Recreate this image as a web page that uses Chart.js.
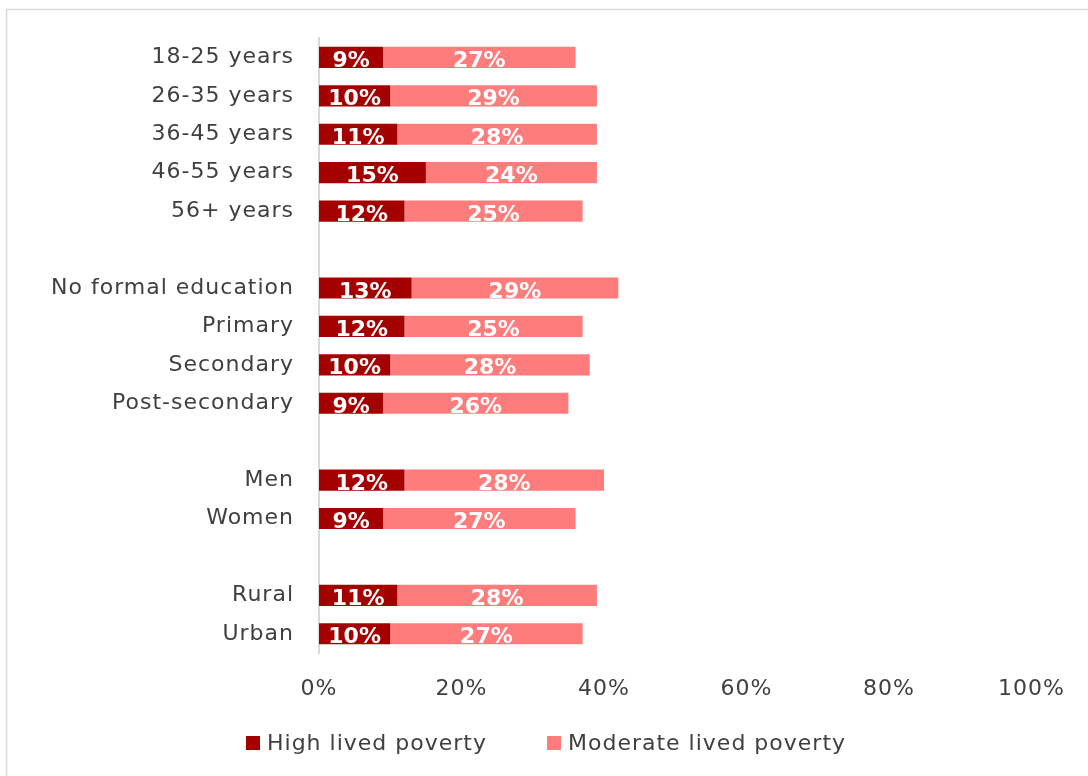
<!DOCTYPE html>
<html lang="en">
<head>
<meta charset="UTF-8">
<title>Lived poverty by group</title>
<script src="https://cdn.jsdelivr.net/npm/chart.js@4/dist/chart.umd.min.js"></script>
<style>
  html, body { margin: 0; padding: 0; background: #fff; overflow: hidden; }
  #wrap { width: 1088px; height: 776px; position: relative; }
  canvas { display: block; }
</style>
</head>
<body>
<div id="wrap"><canvas id="chart" width="1088" height="776"></canvas></div>
<script>
// groups separated by blank rows
const categories = [
  '18-25 years', '26-35 years', '36-45 years', '46-55 years', '56+ years', '',
  'No formal education', 'Primary', 'Secondary', 'Post-secondary', '',
  'Men', 'Women', '',
  'Rural', 'Urban'
];
const highPoverty = [9, 10, 11, 15, 12, null, 13, 12, 10, 9, null, 12, 9, null, 11, 10];
const moderatePoverty = [27, 29, 28, 24, 25, null, 29, 25, 28, 26, null, 28, 27, null, 28, 27];
const seriesNames = ['High lived poverty', 'Moderate lived poverty'];
const seriesColors = ['#a50000', '#ff7c7c'];
const xTicks = [0, 20, 40, 60, 80, 100];

const FONT = "'DejaVu Sans', sans-serif";
const TEXT = '#404040';
const SPACING = '1px';

// wider tracking for axis text
const tracking = {
  id: 'tracking',
  beforeUpdate(chart) { chart.ctx.letterSpacing = SPACING; },
  beforeDraw(chart) { chart.ctx.letterSpacing = SPACING; }
};

// white percentage labels inside each segment
const barLabels = {
  id: 'barLabels',
  afterDatasetsDraw(chart) {
    const ctx = chart.ctx;
    ctx.save();
    ctx.letterSpacing = '0px';
    ctx.fillStyle = '#fff';
    ctx.font = "bold 22px " + FONT;
    ctx.textAlign = 'center';
    ctx.textBaseline = 'alphabetic';
    chart.data.datasets.forEach((ds, i) => {
      chart.getDatasetMeta(i).data.forEach((bar, j) => {
        const v = ds.data[j];
        if (v == null) return;
        ctx.fillText(v + '%', (bar.x + bar.base) / 2, bar.y + bar.height / 2 - 1);
      });
    });
    ctx.restore();
  }
};

// legend row under the axis
const legendRow = {
  id: 'legendRow',
  afterDraw(chart) {
    const ctx = chart.ctx;
    ctx.save();
    ctx.font = "22px " + FONT;
    ctx.textBaseline = 'middle';
    const y = 743;
    const starts = [246, 547];
    chart.data.datasets.forEach((ds, i) => {
      ctx.fillStyle = ds.backgroundColor;
      ctx.fillRect(starts[i], y - 7, 14, 14);
      ctx.fillStyle = TEXT;
      ctx.fillText(ds.label, starts[i] + 21, y + 1);
    });
    ctx.restore();
  }
};

// frame edges along the top and left of the figure
const frame = {
  id: 'frame',
  beforeDraw(chart) {
    const ctx = chart.ctx;
    ctx.save();
    ctx.strokeStyle = '#d9d9d9';
    ctx.lineWidth = 1.5;
    ctx.beginPath();
    ctx.moveTo(6.5, chart.height);
    ctx.lineTo(6.5, 9.5);
    ctx.lineTo(chart.width, 9.5);
    ctx.stroke();
    ctx.restore();
  }
};

new Chart(document.getElementById('chart'), {
  type: 'bar',
  data: {
    labels: categories,
    datasets: [
      { label: seriesNames[0], data: highPoverty, backgroundColor: seriesColors[0],
        barPercentage: 0.55, categoryPercentage: 1 },
      { label: seriesNames[1], data: moderatePoverty, backgroundColor: seriesColors[1],
        barPercentage: 0.55, categoryPercentage: 1 }
    ]
  },
  options: {
    indexAxis: 'y',
    responsive: false,
    animation: false,
    layout: { padding: { top: 38, right: 48, bottom: 54, left: 0 } },
    scales: {
      x: {
        stacked: true,
        min: 0, max: 100,
        afterBuildTicks(scale) { scale.ticks = xTicks.map(v => ({ value: v })); },
        afterFit(scale) { scale.height = 69; },
        grid: { display: false, drawTicks: false },
        border: { display: false },
        ticks: { padding: 23, color: TEXT, font: { family: FONT, size: 22 }, callback: v => v + '%' }
      },
      y: {
        stacked: true,
        afterFit(scale) { scale.width = 319; },
        grid: { display: false, drawTicks: false },
        border: { display: true, color: '#d9d9d9', width: 2 },
        ticks: { padding: 25, color: TEXT, font: { family: FONT, size: 22 } }
      }
    },
    plugins: {
      legend: { display: false },
      tooltip: { enabled: false }
    }
  },
  plugins: [tracking, frame, barLabels, legendRow]
});
</script>
</body>
</html>
